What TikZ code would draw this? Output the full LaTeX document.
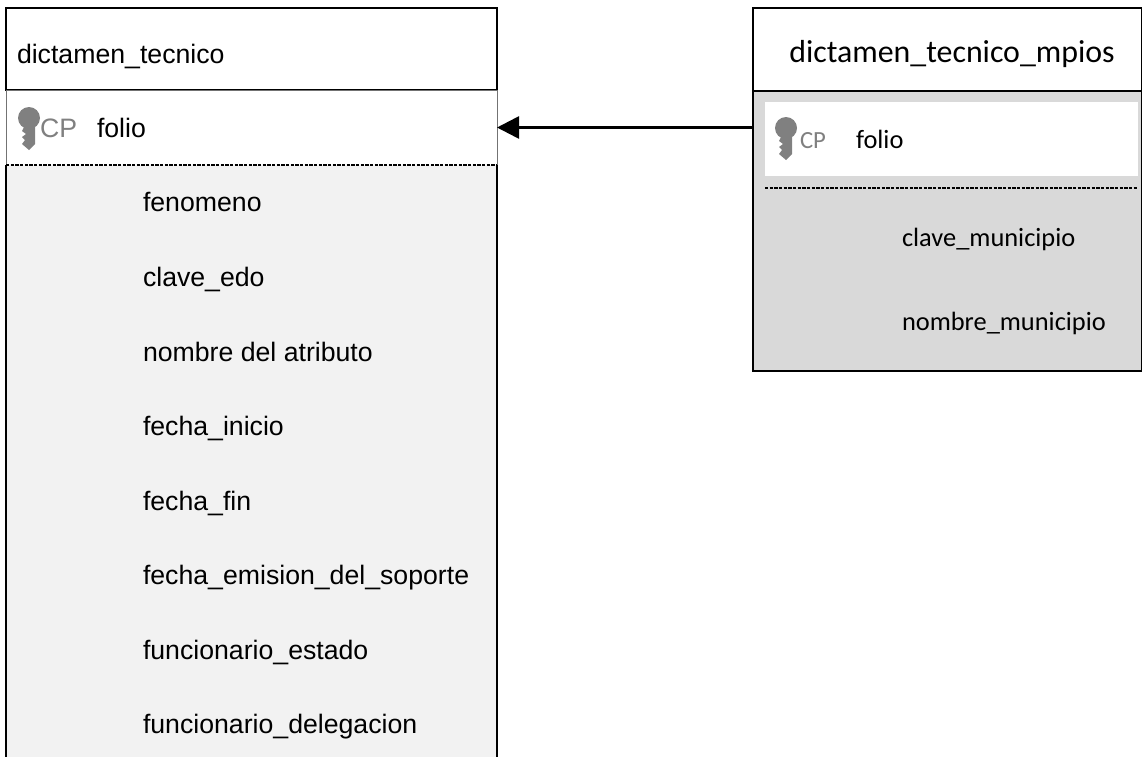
\documentclass[tikz,border=0pt]{standalone}
\usepackage{fontspec}
\setmainfont{Liberation Sans}
\newfontfamily\carlito{Carlito}
\usepackage{xcolor}
\usetikzlibrary{arrows.meta,positioning}
\definecolor{keygray}{HTML}{808080}
\definecolor{lightbody}{HTML}{F2F2F2}
\definecolor{darkbody}{HTML}{D9D9D9}
\tikzset{
  keyicon/.pic={
    \fill[keygray] (0,0) circle [radius=8.25pt];
    \fill[keygray] (-5,9) -- (6,9) -- (6,26) -- (0,32) -- (-7,26) -- (-4,22) -- (-7,19) -- (-3,16) -- (-7,13) -- cycle;
  }
}
\begin{document}
\begin{tikzpicture}[x=0.75pt,y=-0.75pt,
    node distance=0pt,
    box/.style={rectangle,inner sep=0pt,outer sep=0pt,anchor=north west},
    field/.style={inner sep=0pt,outer sep=0pt,anchor=west,text height=14pt,text depth=3.6pt,font=\fontsize{20}{22}\selectfont},
    fieldb/.style={field,font=\carlito\fontsize{19.8}{22}\selectfont},
    split/.style={line width=0.9pt,dash pattern=on 2.6pt off 0.9pt},
    >={Triangle[length=16.5pt,width=16.5pt]}]
  \useasboundingbox (0,0) rectangle (1142,757);

  % left table
  \node[box,draw=black,line width=1.3pt,minimum width=368.25pt,minimum height=61.5pt] (tecnico_head) at (6,8) {};
  \node[box,draw=black!55,line width=0.6pt,minimum width=368.25pt,minimum height=56.25pt,below=0pt of tecnico_head.south west,anchor=north west] (tecnico_folio) {};
  \node[box,fill=lightbody,minimum width=368.25pt,minimum height=444pt,below=0pt of tecnico_folio.south west,anchor=north west] (tecnico_body) {};
  \draw[line width=1.3pt] (tecnico_body.north west) -- (tecnico_body.south west);
  \draw[line width=1.3pt] (tecnico_body.north east) -- (tecnico_body.south east);
  \draw[split] (tecnico_body.north west) -- (tecnico_body.north east);

  \node[field,anchor=west] (tecnico_title) at (17,56.5) {dictamen\_tecnico};
  \pic at (29,118) {keyicon};
  \node[field,text=keygray] (tecnico_cp) at (40,131) {CP};
  \node[field] (tecnico_pk) at (97,131) {folio};

  \node[field] (fenomeno) at (143,205) {fenomeno};
  \node[field,below=55.9pt of fenomeno.west,anchor=west] (clave_edo) {clave\_edo};
  \node[field,below=55.9pt of clave_edo.west,anchor=west] (nombre) {nombre del atributo};
  \node[field,below=55.9pt of nombre.west,anchor=west] (fecha_inicio) {fecha\_inicio};
  \node[field,below=55.9pt of fecha_inicio.west,anchor=west] (fecha_fin) {fecha\_fin};
  \node[field,below=55.9pt of fecha_fin.west,anchor=west] (fecha_emision) {fecha\_emision\_del\_soporte};
  \node[field,below=55.9pt of fecha_emision.west,anchor=west] (func_estado) {funcionario\_estado};
  \node[field,below=55.9pt of func_estado.west,anchor=west] (func_delegacion) {funcionario\_delegacion};

  % right table
  \node[box,draw=black,line width=1.3pt,minimum width=291.75pt,minimum height=62.25pt] (mpios_head) at (753,8) {};
  \node[box,draw=black,fill=darkbody,line width=1.3pt,minimum width=291.75pt,minimum height=210pt,below=0pt of mpios_head.south west,anchor=north west] (mpios_body) {};
  \node[box,fill=white,minimum width=280pt,minimum height=55.5pt] (mpios_folio) at (765,102) {};
  \coordinate (dash_left) at (765,188);
  \coordinate (dash_right) at (1138,188);
  \draw[split] (dash_left) -- (dash_right);

  \node[fieldb,anchor=center] (mpios_title) at (952,56) {\fontsize{23.9}{26}\selectfont dictamen\_tecnico\_mpios};
  \pic at (786,128) {keyicon};
  \node[fieldb,text=keygray] (mpios_cp) at (800,142) {\fontsize{18.5}{22}\selectfont CP};
  \node[fieldb] (mpios_pk) at (856,142) {folio};
  \node[fieldb] (clave_mun) at (902,240) {clave\_municipio};
  \node[fieldb,below=63pt of clave_mun.west,anchor=west] (nombre_mun) {nombre\_municipio};

  \draw[->,line width=2pt] (mpios_body.west |- tecnico_folio.east) -- (tecnico_folio.east);
\end{tikzpicture}
\end{document}
